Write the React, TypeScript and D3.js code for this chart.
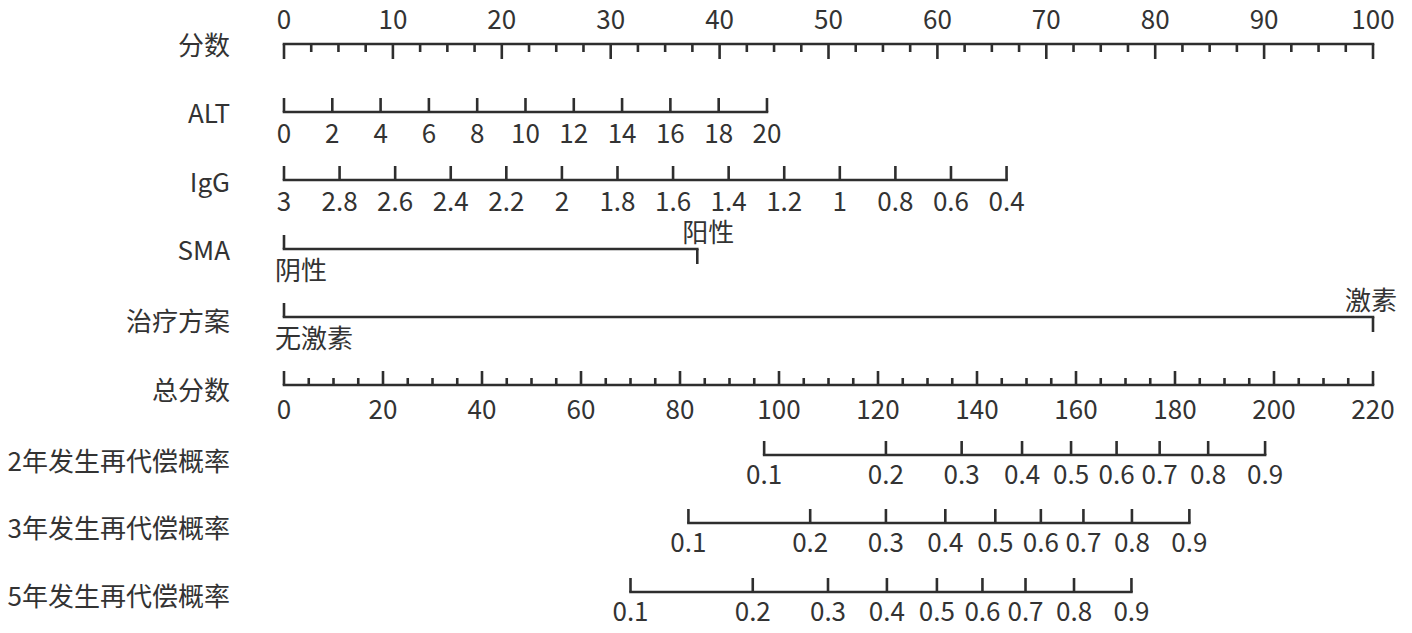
import React, { useEffect, useRef } from "react";
import * as d3 from "d3";

// ---------------- data ----------------
const rowLabels = ["分数", "ALT", "IgG", "SMA", "治疗方案", "总分数", "2年发生再代偿概率", "3年发生再代偿概率", "5年发生再代偿概率"];

const pointsTickLabels = [0, 10, 20, 30, 40, 50, 60, 70, 80, 90, 100];
const pointsMinorStep = 2.5;

const altValues = [0, 2, 4, 6, 8, 10, 12, 14, 16, 18, 20];
const altDomain = [0, 20];
const altPointsRange = [0, 44.35];

const iggValues = [3, 2.8, 2.6, 2.4, 2.2, 2, 1.8, 1.6, 1.4, 1.2, 1, 0.8, 0.6, 0.4];
const iggDomain = [3, 0.4];
const iggPointsRange = [0, 66.35];

const smaLevels = ["阴性", "阳性"];
const smaPoints = [0, 37.95];

const treatLevels = ["无激素", "激素"];
const treatPoints = [0, 100];

const totalTickLabels = [0, 20, 40, 60, 80, 100, 120, 140, 160, 180, 200, 220];
const totalMinorStep = 5;

const probLabels = ["0.1", "0.2", "0.3", "0.4", "0.5", "0.6", "0.7", "0.8", "0.9"];
const prob2yTotal = [97.0, 121.6, 136.9, 149.1, 159.0, 168.2, 176.9, 186.7, 198.2];
const prob3yTotal = [81.7, 106.3, 121.6, 133.6, 143.7, 152.9, 161.5, 171.3, 182.9];
const prob5yTotal = [70.0, 94.7, 109.9, 121.8, 131.9, 141.1, 149.8, 159.6, 171.2];

// ---------------- layout ----------------
const W = 1412;
const H = 633;
const X0 = 284;
const X1 = 1373;
const lineY = [44, 112, 180, 249, 317, 385, 455, 523, 592];
const labelBase = [55, 123, 192, 260, 331, 400, 471, 538, 606];
const LABEL_X = 230;
const FONT = "'Noto Sans CJK SC', 'Noto Sans', sans-serif";
const FS = 26;
const TXT = "#333333";
const LN = "#2e2e2e";
const LW = 2.6;
const MAJ = 14;
const MIN = 7;

export default function App() {
  const ref = useRef<SVGSVGElement | null>(null);

  useEffect(() => {
    const svg = d3.select(ref.current);
    svg.selectAll("*").remove();

    const xPts = d3.scaleLinear().domain([0, 100]).range([X0, X1]);
    const xTot = d3.scaleLinear().domain([0, 220]).range([X0, X1]);

    const g = svg.append("g");

    // row labels
    g.selectAll("text.rowlab")
      .data(rowLabels)
      .join("text")
      .attr("class", "rowlab")
      .attr("x", LABEL_X)
      .attr("y", (_d, i) => labelBase[i])
      .attr("text-anchor", "end")
      .attr("font-family", FONT)
      .attr("font-size", FS)
      .attr("fill", TXT)
      .text((d) => d);

    const hline = (y: number, xa: number, xb: number) =>
      g.append("line").attr("x1", xa).attr("x2", xb).attr("y1", y).attr("y2", y)
        .attr("stroke", LN).attr("stroke-width", LW).attr("stroke-linecap", "square");
    const vtick = (x: number, y: number, len: number) =>
      g.append("line").attr("x1", x).attr("x2", x).attr("y1", y).attr("y2", y + len)
        .attr("stroke", LN).attr("stroke-width", LW);
    const label = (x: number, y: number, t: string, anchor = "middle") =>
      g.append("text").attr("x", x).attr("y", y).attr("text-anchor", anchor)
        .attr("font-family", FONT).attr("font-size", FS).attr("fill", TXT).text(t);

    // 分数 (points) axis: ticks down, labels above
    {
      const y = lineY[0];
      hline(y, xPts(0), xPts(100));
      const minors = d3.range(0, 100 + 1e-9, pointsMinorStep);
      minors.forEach((v) => {
        const major = pointsTickLabels.includes(v);
        vtick(xPts(v), y, major ? MAJ + 1 : MIN + 1);
      });
      pointsTickLabels.forEach((v) => label(xPts(v), y - 15, String(v)));
    }

    // ALT
    {
      const y = lineY[1];
      const s = d3.scaleLinear().domain(altDomain).range(altPointsRange);
      hline(y, xPts(s(altValues[0])), xPts(s(altValues[altValues.length - 1])));
      altValues.forEach((v) => {
        vtick(xPts(s(v)), y, -MAJ);
        label(xPts(s(v)), y + 31, String(v));
      });
    }

    // IgG
    {
      const y = lineY[2];
      const s = d3.scaleLinear().domain(iggDomain).range(iggPointsRange);
      hline(y, xPts(s(iggValues[0])), xPts(s(iggValues[iggValues.length - 1])));
      iggValues.forEach((v) => {
        vtick(xPts(s(v)), y, -MAJ);
        label(xPts(s(v)), y + 31, String(v));
      });
    }

    // SMA
    {
      const y = lineY[3];
      hline(y, xPts(smaPoints[0]), xPts(smaPoints[1]));
      vtick(xPts(smaPoints[0]), y, -MAJ);
      vtick(xPts(smaPoints[1]), y, MAJ + 1);
      label(xPts(smaPoints[0]) - 9, y + 31, smaLevels[0], "start");
      label(xPts(smaPoints[1]) + 11, y - 7, smaLevels[1]);
    }

    // 治疗方案
    {
      const y = lineY[4];
      hline(y, xPts(treatPoints[0]), xPts(treatPoints[1]));
      vtick(xPts(treatPoints[0]), y, -MAJ);
      vtick(xPts(treatPoints[1]), y, MAJ + 1);
      label(xPts(treatPoints[0]) - 9, y + 31, treatLevels[0], "start");
      label(xPts(treatPoints[1]) - 2, y - 7, treatLevels[1]);
    }

    // 总分数
    {
      const y = lineY[5];
      hline(y, xTot(0), xTot(220));
      d3.range(0, 220 + 1e-9, totalMinorStep).forEach((v) => {
        const major = totalTickLabels.includes(v);
        vtick(xTot(v), y, major ? -MAJ : -MIN);
      });
      totalTickLabels.forEach((v) => label(xTot(v), y + 34, String(v)));
    }

    // probability axes
    [prob2yTotal, prob3yTotal, prob5yTotal].forEach((arr, k) => {
      const y = lineY[6 + k];
      hline(y, xTot(arr[0]), xTot(arr[arr.length - 1]));
      arr.forEach((v, i) => {
        vtick(xTot(v), y, -MAJ);
        label(xTot(v), y + 29, probLabels[i]);
      });
    });
  }, []);

  return (
    <svg
      ref={ref}
      width={W}
      height={H}
      style={{ position: "absolute", left: 0, top: 0, background: "#ffffff" }}
    />
  );
}
